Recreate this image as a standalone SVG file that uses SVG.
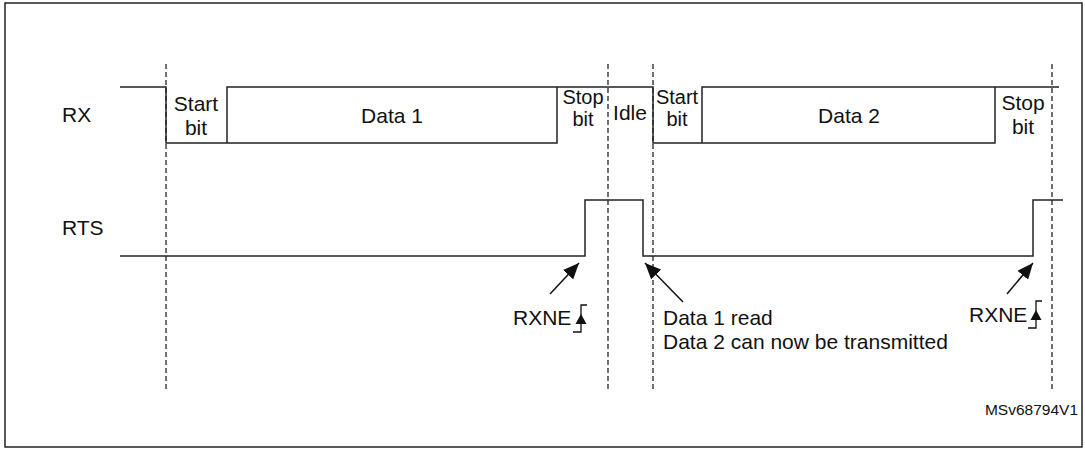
<svg xmlns="http://www.w3.org/2000/svg" width="1085" height="450" viewBox="0 0 1085 450">
<style>
.sig{fill:none;stroke:#222;stroke-width:1.5}
.dash{fill:none;stroke:#222;stroke-width:1.3;stroke-dasharray:5,3}
.arr{fill:none;stroke:#111;stroke-width:1.5}
.edge{fill:none;stroke:#111;stroke-width:1.3}
text{font-family:"Liberation Sans",Arial,sans-serif;font-size:21px;fill:#111}
.c{text-anchor:middle}
.cell{font-size:20px}
.small{font-size:15.5px}
</style>
<defs>
<marker id="ah" markerUnits="userSpaceOnUse" markerWidth="18" markerHeight="14" refX="16" refY="7" orient="auto">
<path d="M0,0 L16,7 L0,14 Z" fill="#111"/>
</marker>
</defs>
<rect x="5" y="3" width="1077" height="444" fill="#fff" stroke="#222" stroke-width="1.5"/>
<g id="dashes">
<line class="dash" x1="166" y1="64" x2="166" y2="390"/>
<line class="dash" x1="608" y1="64" x2="608" y2="390"/>
<line class="dash" x1="653" y1="64" x2="653" y2="390"/>
<line class="dash" x1="1052" y1="64" x2="1052" y2="390"/>
</g>
<g id="rx">
<text x="62" y="122">RX</text>
<path class="sig" d="M120,87 H166 V143 H557 V87"/>
<path class="sig" d="M227,143 V87 H653 V143 H995 V87"/>
<path class="sig" d="M702,143 V87 H1059"/>
<text class="c" x="196" y="111">Start</text>
<text class="c" x="196" y="135">bit</text>
<text class="c" x="392" y="123">Data 1</text>
<text class="c cell" x="583" y="104">Stop</text>
<text class="c cell" x="583" y="126">bit</text>
<text class="c" x="630" y="120">Idle</text>
<text class="c cell" x="677" y="104">Start</text>
<text class="c cell" x="677" y="126">bit</text>
<text class="c" x="849" y="123">Data 2</text>
<text class="c" x="1023" y="110">Stop</text>
<text class="c" x="1023" y="134">bit</text>
</g>
<g id="rts">
<text x="62" y="235">RTS</text>
<path class="sig" d="M120,256 H585 V200 H643 V256 H1033 V200 H1063"/>
</g>
<g id="connectors">
<line class="arr" x1="550" y1="294" x2="579" y2="263" marker-end="url(#ah)"/>
<line class="arr" x1="683" y1="302" x2="645" y2="263" marker-end="url(#ah)"/>
<line class="arr" x1="1007" y1="294" x2="1033" y2="263" marker-end="url(#ah)"/>
</g>
<g id="rxne1">
<text x="513" y="325">RXNE</text>
<path class="edge" d="M573,332 H581 V305 H587"/>
<path d="M581,314 L575.5,324 L586.5,324 Z" fill="#111"/>
</g>
<g id="rxne2">
<text x="969" y="322">RXNE</text>
<path class="edge" d="M1028,328 H1036 V301 H1042"/>
<path d="M1036,310 L1030.5,320 L1041.5,320 Z" fill="#111"/>
</g>
<g id="note">
<text x="663" y="325">Data 1 read</text>
<text x="663" y="349">Data 2 can now be transmitted</text>
</g>
<text class="small" x="1078" y="415" text-anchor="end">MSv68794V1</text>
</svg>
